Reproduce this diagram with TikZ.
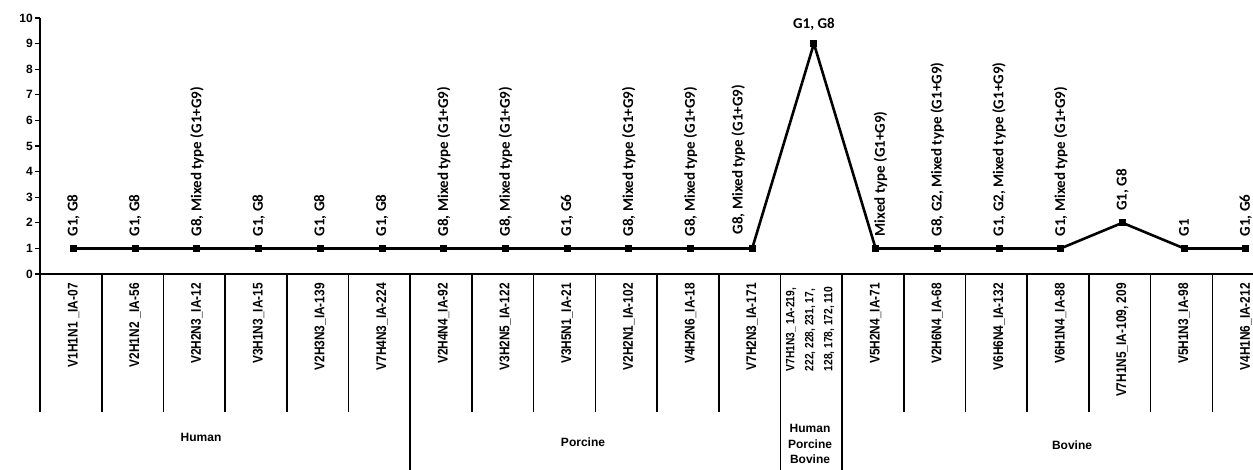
\documentclass[tikz,border=0pt]{standalone}
\usepackage{fontspec}
\setmainfont{Liberation Sans}
\newfontfamily\isofont[FakeStretch=0.85]{Liberation Sans}
\newfontfamily\calfont{Carlito}
\usepackage{tikz}
\usetikzlibrary{positioning}

\tikzset{
  axisline/.style={line width=1.6pt},
  dataline/.style={line width=2.6pt, line join=round},
  datapt/.style={fill, inner sep=0pt, minimum size=7pt},
  gtype/.style={rotate=90, anchor=west, inner sep=0pt, font=\calfont\bfseries\fontsize{15}{15}\selectfont},
  isolate/.style={rotate=90, anchor=east, inner sep=0pt, font=\isofont\bfseries\fontsize{14}{14}\selectfont},
  hostlabel/.style={align=center, inner sep=0pt, font=\bfseries\fontsize{12}{15.5}\selectfont},
  ylabel/.style={anchor=east, inner sep=0pt, font=\bfseries\fontsize{12}{12}\selectfont}
}

\begin{document}
\begin{tikzpicture}[x=1pt,y=1pt]
    \useasboundingbox (0,0) rectangle (1253,470);

    % draw axes
    \draw[axisline] (40,452) -- (40,58);
    \draw[axisline] (36,196) -- (1253,196);

    % draw y ticks and numbers
    \foreach \v in {0,...,10} {
      \draw[line width=1.2pt] (35,{196+25.6*\v}) -- (40,{196+25.6*\v});
      \node[ylabel] (y\v) at (33,{196+25.6*\v}) {\v};
    }

    % draw category separators
    \foreach \k in {1,...,19}
      \draw[axisline] ({40+61.7*\k},196) -- ({40+61.7*\k},58);
    \foreach \k in {6,12,13}
      \draw[axisline] ({40+61.7*\k},58) -- ({40+61.7*\k},0);

    % draw data points
    \foreach \i/\v in {0/1,1/1,2/1,3/1,4/1,5/1,6/1,7/1,8/1,9/1,10/1,11/1,12/9,13/1,14/1,15/1,16/1,17/2,18/1,19/1}
      \node[datapt] (p\i) at ({73.5+61.7*\i},{196+25.6*\v}) {};

    % draw line
    \foreach \i [evaluate=\i as \j using int(\i+1)] in {0,...,18}
      \draw[dataline] (p\i.center) -- (p\j.center);

    % draw genotype labels
    \foreach \i/\t in {0/{G1, G8},1/{G1, G8},2/{G8, Mixed type (G1+G9)},3/{G1, G8},4/{G1, G8},5/{G1, G8},
                       6/{G8, Mixed type (G1+G9)},7/{G8, Mixed type (G1+G9)},8/{G1, G6},9/{G8, Mixed type (G1+G9)},
                       10/{G8, Mixed type (G1+G9)},14/{G8, G2, Mixed type (G1+G9)},15/{G1, G2, Mixed type (G1+G9)},
                       16/{G1, Mixed type (G1+G9)},17/{G1, G8},18/{G1},19/{G1, G6}}
      \node[gtype] (g\i) at ([yshift=12pt]p\i.center) {\t};
    \node[gtype] (g11) at ([xshift=-14pt,yshift=14pt]p11.center) {G8, Mixed type (G1+G9)};
    \node[gtype] (g13) at ([xshift=5pt,yshift=12pt]p13.center) {Mixed type (G1+G9)};
    \node[font=\calfont\bfseries\fontsize{15}{15}\selectfont, inner sep=0pt, above=9pt of p12] (g12) {G1, G8};

    % draw isolate names
    \foreach \i/\t in {0/{V1H1N1 \_IA-07},1/{V2H1N2 \_IA-56},2/{V2H2N3\_IA-12},3/{V3H1N3\_IA-15},4/{V2H3N3\_IA-139},
                       5/{V7H4N3\_IA-224},6/{V2H4N4\_IA-92},7/{V3H2N5\_IA-122},8/{V3H5N1\_IA-21},9/{V2H2N1\_IA-102},
                       10/{V4H2N6\_IA-18},11/{V7H2N3\_IA-171},13/{V5H2N4\_IA-71},14/{V2H6N4\_IA-68},15/{V6H6N4\_IA-132},
                       16/{V6H1N4\_IA-88},17/{V7H1N5\_IA-109, 209},18/{V5H1N3\_IA-98},19/{V4H1N6\_IA-212}}
      \node[isolate] (n\i) at ({73.5+61.7*\i},187) {\t};
    \node[rotate=90, align=left, inner sep=0pt, font=\isofont\bfseries\fontsize{12}{19}\selectfont] (n12) at (810,141)
      {V7H1N3\_ 1A-219,\\222, 228, 231, 17,\\128, 178, 172, 110};

    % draw host groups
    \node[hostlabel] (human) at (201,33) {Human};
    \node[hostlabel] (porcine) at (583,28) {Porcine};
    \node[hostlabel] (mixed) at (810,26) {Human\\Porcine\\Bovine};
    \node[hostlabel] (bovine) at (1072,25) {Bovine};
\end{tikzpicture}
\end{document}
